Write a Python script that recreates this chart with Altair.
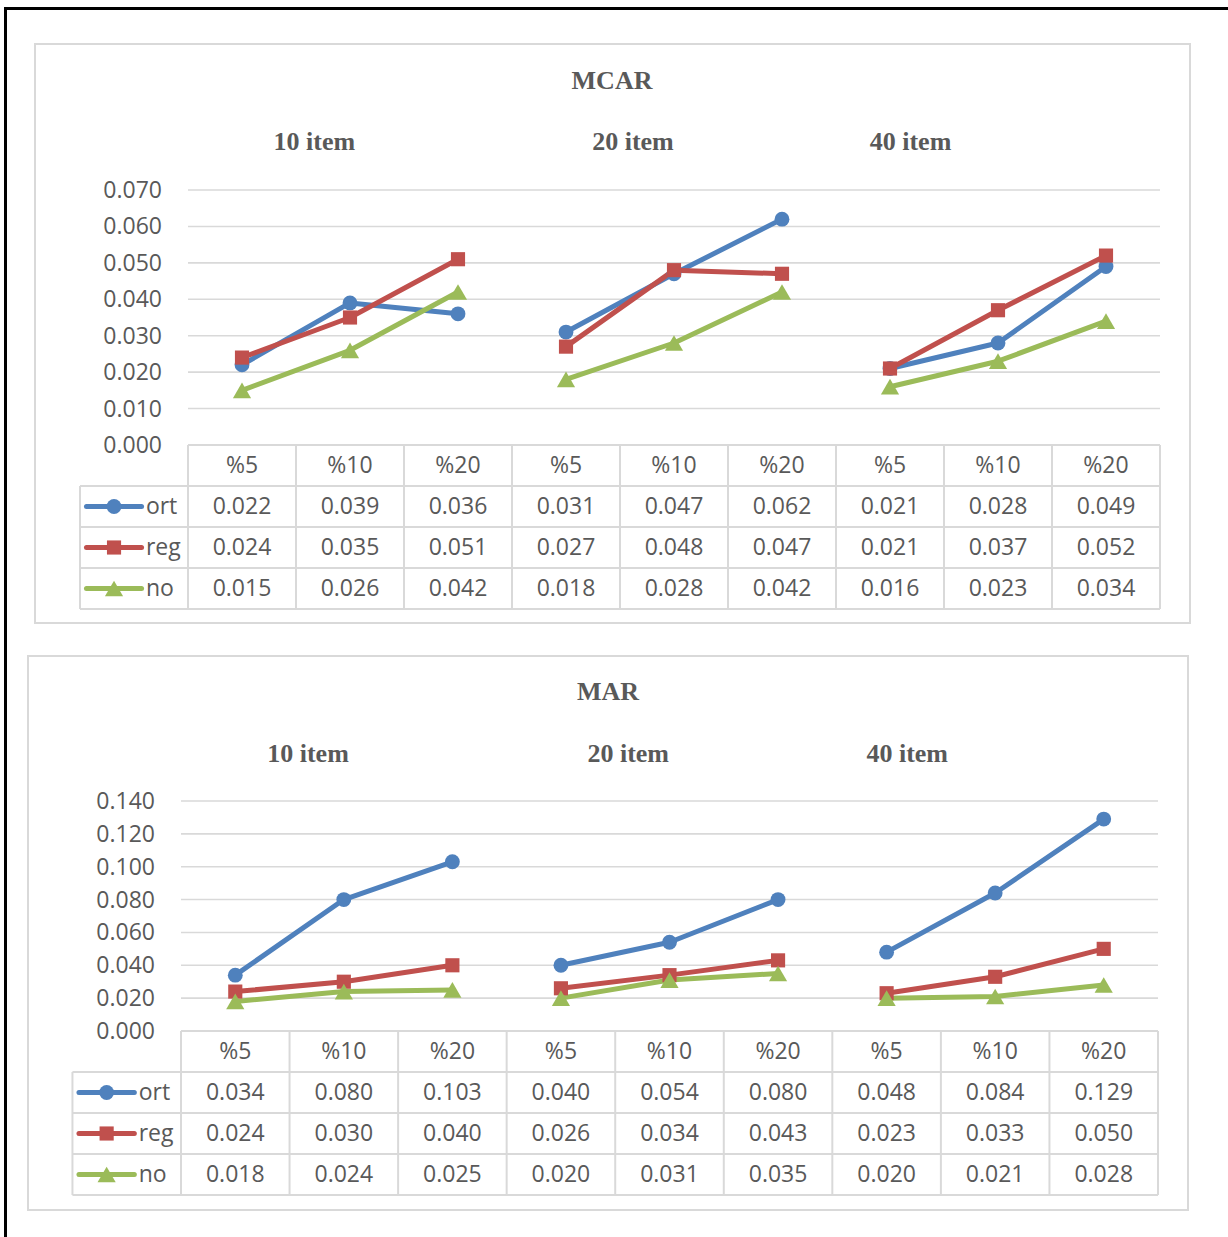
import altair as alt
import pandas as pd

# ---- data -------------------------------------------------------------
SERIES = ["ort", "reg", "no"]
GROUPS = ["10 item", "20 item", "40 item"]
LEVELS = ["%5", "%10", "%20"]

MCAR_ORT = [0.022, 0.039, 0.036, 0.031, 0.047, 0.062, 0.021, 0.028, 0.049]
MCAR_REG = [0.024, 0.035, 0.051, 0.027, 0.048, 0.047, 0.021, 0.037, 0.052]
MCAR_NO = [0.015, 0.026, 0.042, 0.018, 0.028, 0.042, 0.016, 0.023, 0.034]

MAR_ORT = [0.034, 0.080, 0.103, 0.040, 0.054, 0.080, 0.048, 0.084, 0.129]
MAR_REG = [0.024, 0.030, 0.040, 0.026, 0.034, 0.043, 0.023, 0.033, 0.050]
MAR_NO = [0.018, 0.024, 0.025, 0.020, 0.031, 0.035, 0.020, 0.021, 0.028]

MCAR_TICKS = [0.000, 0.010, 0.020, 0.030, 0.040, 0.050, 0.060, 0.070]
MAR_TICKS = [0.000, 0.020, 0.040, 0.060, 0.080, 0.100, 0.120, 0.140]

# ---- styling ----------------------------------------------------------
COLORS = ["#4f81bd", "#c0504d", "#9bbb59"]
SHAPES = ["circle", "square", "triangle-up"]
MARKER_SIZE = {"ort": 220, "reg": 200, "no": 330}
TEXT = "#595959"
GRID = "#d9d9d9"
SANS = "Open Sans"
SERIF = "Liberation Serif"
LINE_W = 5

color_scale = alt.Scale(domain=SERIES, range=COLORS)
shape_scale = alt.Scale(domain=SERIES, range=SHAPES)

# group label positions in column units along the category axis
GROUP_LABEL_POS = [1.17, 4.12, 6.69]

PANELS = [
    dict(title="MCAR", values=[MCAR_ORT, MCAR_REG, MCAR_NO], ticks=MCAR_TICKS,
         left=188, right=1160, top=190, zero=445, bottom=609,
         title_x=612, title_y=81, group_y=142, box=(35, 44, 1190, 623)),
    dict(title="MAR", values=[MAR_ORT, MAR_REG, MAR_NO], ticks=MAR_TICKS,
         left=181, right=1158, top=801, zero=1031, bottom=1195,
         title_x=608, title_y=692, group_y=754, box=(28, 656, 1188, 1210)),
]

ONE = pd.DataFrame({"k": [0]})


def markers(df, xfield, yfield, xs, ys):
    return alt.Chart(df).mark_point(filled=True, opacity=1, strokeWidth=0).encode(
        x=alt.X(f"{xfield}:Q", scale=xs, axis=None),
        y=alt.Y(f"{yfield}:Q", scale=ys, axis=None),
        color=alt.Color("series:N", scale=color_scale, legend=None),
        shape=alt.Shape("series:N", scale=shape_scale, legend=None),
        size=alt.Size("msize:Q", scale=None, legend=None),
    )


def panel_layers(p):
    ncol = 9
    xs = alt.Scale(domain=[0, ncol], range=[p["left"], p["right"]], nice=False, zero=False)
    ys = alt.Scale(domain=[0, p["ticks"][-1]], range=[p["zero"], p["top"]], nice=False, zero=False)
    rs = alt.Scale(domain=[0, 4], range=[p["zero"], p["bottom"]], nice=False, zero=False)

    layers = []

    # panel frame
    x0, y0, x1, y1 = p["box"]
    layers.append(
        alt.Chart(ONE).mark_rect(fillOpacity=0, stroke=GRID, strokeWidth=2).encode(
            x=alt.value(x0), x2=alt.value(x1), y=alt.value(y0), y2=alt.value(y1)
        )
    )

    # title and group labels
    layers.append(
        alt.Chart(ONE).mark_text(font=SERIF, fontSize=26, fontWeight="bold", color=TEXT,
                                 baseline="middle", align="center").encode(
            x=alt.value(p["title_x"]), y=alt.value(p["title_y"]), text=alt.value(p["title"])
        )
    )
    grp = pd.DataFrame({"pos": GROUP_LABEL_POS, "label": GROUPS})
    layers.append(
        alt.Chart(grp).mark_text(font=SERIF, fontSize=26, fontWeight="bold", color=TEXT,
                                 baseline="middle", align="center").encode(
            x=alt.X("pos:Q", scale=xs, axis=None), y=alt.value(p["group_y"]), text="label:N"
        )
    )

    # horizontal gridlines and y tick labels
    tick_df = pd.DataFrame({"v": p["ticks"], "label": [f"{t:.3f}" for t in p["ticks"]],
                            "c0": 0, "c1": ncol})
    layers.append(
        alt.Chart(tick_df[tick_df["v"] > 0]).mark_rule(color=GRID, strokeWidth=1.6).encode(
            x=alt.X("c0:Q", scale=xs, axis=None), x2="c1:Q",
            y=alt.Y("v:Q", scale=ys, axis=None)
        )
    )
    layers.append(
        alt.Chart(tick_df).mark_text(font=SANS, fontSize=23, color=TEXT, align="right",
                                     baseline="middle", dx=-26, dy=1).encode(
            x=alt.X("c0:Q", scale=xs, axis=None), y=alt.Y("v:Q", scale=ys, axis=None),
            text="label:N"
        )
    )

    # series lines and markers
    rows = []
    for s, vals in zip(SERIES, p["values"]):
        for i, v in enumerate(vals):
            rows.append(dict(series=s, group=GROUPS[i // 3], level=LEVELS[i % 3],
                             col=i + 0.5, value=v, label=f"{v:.3f}",
                             row=SERIES.index(s) + 1.5, msize=MARKER_SIZE[s]))
    pts = pd.DataFrame(rows)

    layers.append(
        alt.Chart(pts).mark_line(strokeWidth=LINE_W, strokeJoin="round", strokeCap="round").encode(
            x=alt.X("col:Q", scale=xs, axis=None), y=alt.Y("value:Q", scale=ys, axis=None),
            color=alt.Color("series:N", scale=color_scale, legend=None),
            detail="group:N", order="col:Q"
        )
    )
    layers.append(markers(pts, "col", "value", xs, ys))

    # data table grid
    hl = pd.DataFrame({"r": [0, 1, 2, 3, 4], "c0": [0, -1, -1, -1, -1], "c1": ncol})
    vl = pd.DataFrame({"c": list(range(-1, ncol + 1)),
                       "r0": [1] + [0] * (ncol + 1), "r1": 4})
    layers.append(
        alt.Chart(hl).mark_rule(color=GRID, strokeWidth=2).encode(
            x=alt.X("c0:Q", scale=xs, axis=None), x2="c1:Q",
            y=alt.Y("r:Q", scale=rs, axis=None)
        )
    )
    layers.append(
        alt.Chart(vl).mark_rule(color=GRID, strokeWidth=2).encode(
            x=alt.X("c:Q", scale=xs, axis=None),
            y=alt.Y("r0:Q", scale=rs, axis=None), y2="r1:Q"
        )
    )

    # header row
    hdr = pd.DataFrame({"col": [i + 0.5 for i in range(ncol)],
                        "label": [LEVELS[i % 3] for i in range(ncol)], "row": 0.5})
    layers.append(
        alt.Chart(hdr).mark_text(font=SANS, fontSize=23, color=TEXT, align="center",
                                 baseline="middle").encode(
            x=alt.X("col:Q", scale=xs, axis=None), y=alt.Y("row:Q", scale=rs, axis=None),
            text="label:N"
        )
    )
    # value cells
    layers.append(
        alt.Chart(pts).mark_text(font=SANS, fontSize=23, color=TEXT, align="center",
                                 baseline="middle").encode(
            x=alt.X("col:Q", scale=xs, axis=None), y=alt.Y("row:Q", scale=rs, axis=None),
            text="label:N"
        )
    )

    # legend keys in the first table column
    leg = pd.DataFrame({"series": SERIES, "row": [i + 1.5 for i in range(3)],
                        "msize": [MARKER_SIZE[s] for s in SERIES],
                        "a": -0.94, "b": -0.43, "m": -0.685, "t": -0.39})
    layers.append(
        alt.Chart(leg).mark_rule(strokeWidth=LINE_W, strokeCap="round").encode(
            x=alt.X("a:Q", scale=xs, axis=None), x2="b:Q",
            y=alt.Y("row:Q", scale=rs, axis=None),
            color=alt.Color("series:N", scale=color_scale, legend=None)
        )
    )
    layers.append(markers(leg, "m", "row", xs, rs))
    layers.append(
        alt.Chart(leg).mark_text(font=SANS, fontSize=23, color=TEXT, align="left",
                                 baseline="middle").encode(
            x=alt.X("t:Q", scale=xs, axis=None), y=alt.Y("row:Q", scale=rs, axis=None),
            text="series:N"
        )
    )
    return layers


layers = []
for p in PANELS:
    layers.extend(panel_layers(p))

# page frame lines on the top and left edges
layers.append(
    alt.Chart(ONE).mark_rule(color="black", strokeWidth=3).encode(
        x=alt.value(4), x2=alt.value(1228), y=alt.value(8.5)
    )
)
layers.append(
    alt.Chart(ONE).mark_rule(color="black", strokeWidth=3).encode(
        x=alt.value(5.5), y=alt.value(7), y2=alt.value(1237)
    )
)

chart = (
    alt.layer(*layers)
    .resolve_scale(x="independent", y="independent")
    .properties(width=1228, height=1237, padding=0,
                autosize=alt.AutoSizeParams(type="none"), background="white")
    .configure_view(stroke=None)
)

chart.save("out.html", embed_options={"renderer": "svg", "actions": False})
